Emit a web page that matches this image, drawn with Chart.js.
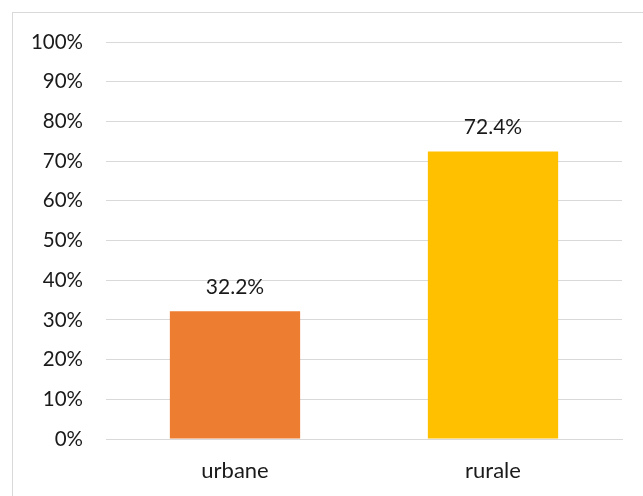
<!DOCTYPE html>
<html>
<head>
<meta charset="utf-8">
<script src="https://cdn.jsdelivr.net/npm/chart.js@4/dist/chart.umd.min.js"></script>
<style>
  html, body { margin: 0; padding: 0; background: #fff; overflow: hidden; }
  #wrap { position: relative; width: 643px; height: 496px; overflow: hidden; }
  #frame { position: absolute; left: 12px; top: 12px; width: 700px; height: 600px; border: 1px solid #d9d9d9; box-sizing: border-box; pointer-events: none; }
  canvas { position: absolute; left: 0; top: 0; }
</style>
</head>
<body>
<div id="wrap">
  <canvas id="c" width="643" height="496"></canvas>
  <div id="frame"></div>
</div>
<script>
const categories = ["urbane", "rurale"];
const values = [32.2, 72.4];
const barColors = ["#ED7D31", "#FFC000"];
const yTicks = [0, 10, 20, 30, 40, 50, 60, 70, 80, 90, 100];

const FONT = "Lato, 'Open Sans', sans-serif";

const valueLabels = {
  id: "valueLabels",
  afterDatasetsDraw(chart) {
    const ctx = chart.ctx;
    const meta = chart.getDatasetMeta(0);
    ctx.save();
    ctx.font = "21px " + FONT;
    ctx.fillStyle = "#1a1a1a";
    ctx.textAlign = "center";
    ctx.textBaseline = "middle";
    meta.data.forEach((bar, i) => {
      ctx.fillText(values[i].toFixed(1) + "%", bar.x, bar.y - 24);
    });
    ctx.restore();
  }
};

new Chart(document.getElementById("c"), {
  type: "bar",
  data: {
    labels: categories,
    datasets: [{
      data: values,
      backgroundColor: barColors,
      borderWidth: 0,
      categoryPercentage: 1.0,
      barPercentage: 0.505
    }]
  },
  options: {
    responsive: false,
    animation: false,
    layout: { padding: { left: 0, right: 21, top: 42, bottom: 0 } },
    plugins: { legend: { display: false }, tooltip: { enabled: false } },
    scales: {
      x: {
        grid: { display: false, drawTicks: false },
        border: { display: true, color: "#d9d9d9", width: 1 },
        ticks: { color: "#1a1a1a", font: { family: FONT, size: 22 }, padding: 19 },
        afterFit(s) { s.height = 57; }
      },
      y: {
        min: 0, max: 100,
        afterBuildTicks(s) { s.ticks = yTicks.map(v => ({ value: v })); },
        grid: { color: "#d9d9d9", lineWidth: 1, drawTicks: false },
        border: { display: false },
        ticks: { color: "#1a1a1a", font: { family: FONT, size: 20.5 }, padding: 23, callback: v => v + "%" },
        afterFit(s) { s.width = 106; }
      }
    }
  },
  plugins: [valueLabels]
});
</script>
</body>
</html>
